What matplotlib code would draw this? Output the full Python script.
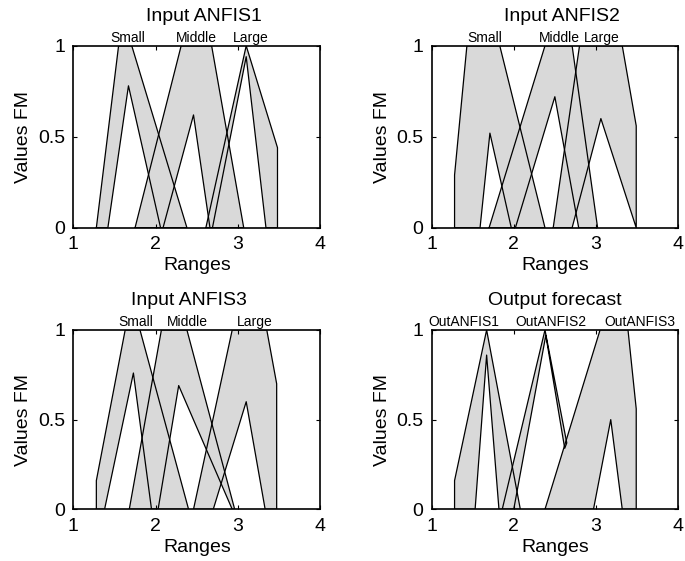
import matplotlib
matplotlib.use("Agg")
import matplotlib.pyplot as plt

plt.rcParams['font.family'] = ['Liberation Sans', 'DejaVu Sans']

# each membership function: upper (x, y) and lower (x, y) breakpoints

# Input ANFIS1
in1Names = ["Small", "Middle", "Large"]
in1LabelX = [1.66, 2.50, 3.15]
in1SmallUpX, in1SmallUpY = [1.28, 1.55, 1.71, 2.38], [0, 1, 1, 0]
in1SmallLoX, in1SmallLoY = [1.42, 1.67, 2.06], [0, 0.78, 0]
in1MiddleUpX, in1MiddleUpY = [1.75, 2.31, 2.68, 3.07], [0, 1, 1, 0]
in1MiddleLoX, in1MiddleLoY = [2.09, 2.46, 2.66], [0, 0.62, 0]
in1LargeUpX, in1LargeUpY = [2.61, 3.10, 3.48, 3.48], [0, 1, 0.44, 0]
in1LargeLoX, in1LargeLoY = [2.69, 3.10, 3.34], [0, 0.94, 0]

# Input ANFIS2
in2Names = ["Small", "Middle", "Large"]
in2LabelX = [1.65, 2.56, 3.07]
in2SmallUpX, in2SmallUpY = [1.28, 1.28, 1.43, 1.83, 2.38], [0, 0.29, 1, 1, 0]
in2SmallLoX, in2SmallLoY = [1.59, 1.71, 1.97], [0, 0.52, 0]
in2MiddleUpX, in2MiddleUpY = [1.70, 2.38, 2.71, 3.02], [0, 1, 1, 0]
in2MiddleLoX, in2MiddleLoY = [2.02, 2.50, 2.79], [0, 0.72, 0]
in2LargeUpX, in2LargeUpY = [2.48, 2.80, 3.32, 3.49, 3.49], [0, 1, 1, 0.56, 0]
in2LargeLoX, in2LargeLoY = [2.71, 3.06, 3.49], [0, 0.60, 0]

# Input ANFIS3
in3Names = ["Small", "Middle", "Large"]
in3LabelX = [1.76, 2.38, 3.20]
in3SmallUpX, in3SmallUpY = [1.28, 1.28, 1.63, 1.81, 2.40], [0, 0.16, 1, 1, 0]
in3SmallLoX, in3SmallLoY = [1.38, 1.73, 1.95], [0, 0.76, 0]
in3MiddleUpX, in3MiddleUpY = [1.68, 2.07, 2.38, 2.96], [0, 1, 1, 0]
in3MiddleLoX, in3MiddleLoY = [2.03, 2.28, 2.93], [0, 0.69, 0]
in3LargeUpX, in3LargeUpY = [2.46, 2.93, 3.35, 3.47, 3.47], [0, 1, 1, 0.70, 0]
in3LargeLoX, in3LargeLoY = [2.70, 3.10, 3.33], [0, 0.60, 0]

# Output forecast
outNames = ["OutANFIS1", "OutANFIS2", "OutANFIS3"]
outLabelX = [1.39, 2.45, 3.54]
out1UpX, out1UpY = [1.28, 1.28, 1.67, 2.08], [0, 0.16, 1, 0]
out1LoX, out1LoY = [1.53, 1.67, 1.82], [0, 0.86, 0]
out2UpX, out2UpY = [1.86, 2.38, 2.645], [0, 1, 0.37]
out2LoX, out2LoY = [2.00, 2.39, 2.62], [0, 0.97, 0.34]
out3UpX, out3UpY = [2.38, 3.05, 3.39, 3.49, 3.49], [0, 1, 1, 0.56, 0]
out3LoX, out3LoY = [2.97, 3.18, 3.32], [0, 0.50, 0]

panels = [
    ("Input ANFIS1", in1Names, in1LabelX, [
        (in1SmallUpX, in1SmallUpY, in1SmallLoX, in1SmallLoY),
        (in1MiddleUpX, in1MiddleUpY, in1MiddleLoX, in1MiddleLoY),
        (in1LargeUpX, in1LargeUpY, in1LargeLoX, in1LargeLoY)]),
    ("Input ANFIS2", in2Names, in2LabelX, [
        (in2SmallUpX, in2SmallUpY, in2SmallLoX, in2SmallLoY),
        (in2MiddleUpX, in2MiddleUpY, in2MiddleLoX, in2MiddleLoY),
        (in2LargeUpX, in2LargeUpY, in2LargeLoX, in2LargeLoY)]),
    ("Input ANFIS3", in3Names, in3LabelX, [
        (in3SmallUpX, in3SmallUpY, in3SmallLoX, in3SmallLoY),
        (in3MiddleUpX, in3MiddleUpY, in3MiddleLoX, in3MiddleLoY),
        (in3LargeUpX, in3LargeUpY, in3LargeLoX, in3LargeLoY)]),
    ("Output forecast", outNames, outLabelX, [
        (out1UpX, out1UpY, out1LoX, out1LoY),
        (out2UpX, out2UpY, out2LoX, out2LoY),
        (out3UpX, out3UpY, out3LoX, out3LoY)]),
]

# axes rectangles and title x (titles are not quite centred in the original)
positions = [[0.107, 0.594, 0.3606, 0.3244],
             [0.630, 0.594, 0.3600, 0.3244],
             [0.107, 0.0922, 0.3606, 0.3196],
             [0.630, 0.0922, 0.3600, 0.3196]]
titleX = [0.528, 0.528, 0.469, 0.5]

fillColor = "#d9d9d9"

def polygonOf(upX, upY, loX, loY):
    xs = list(upX) + list(loX)[::-1]
    ys = list(upY) + list(loY)[::-1]
    return xs, ys

fig = plt.figure(figsize=(6.85, 5.61), dpi=100)

for i in range(len(panels)):
    title, names, labelX, mfs = panels[i]
    ax = fig.add_axes(positions[i])

    # fills first so every outline stays visible on top
    for upX, upY, loX, loY in mfs:
        xs, ys = polygonOf(upX, upY, loX, loY)
        ax.fill(xs, ys, color=fillColor, lw=0, zorder=1)
    for upX, upY, loX, loY in mfs:
        xs, ys = polygonOf(upX, upY, loX, loY)
        ax.plot(xs + xs[:1], ys + ys[:1], color="black", lw=0.9, zorder=2)

    for name, x in zip(names, labelX):
        ax.text(x, 1.02, name, ha="center", va="baseline", fontsize=10, clip_on=False)

    ax.set_xlim(1, 4)
    ax.set_ylim(0, 1)
    ax.set_xticks([1, 2, 3, 4])
    ax.set_yticks([0, 0.5, 1])
    ax.set_yticklabels(["0", "0.5", "1"])
    ax.tick_params(direction="in", top=True, right=True, length=3, width=0.8,
                   labelsize=14, pad=6)
    for s in ax.spines.values():
        s.set_linewidth(1.2)
    ax.set_title(title, fontsize=14, pad=18, x=titleX[i])
    ax.set_xlabel("Ranges", fontsize=14, labelpad=3)
    ax.set_ylabel("Values FM", fontsize=14, labelpad=4)

plt.savefig("out.png", dpi=100)
